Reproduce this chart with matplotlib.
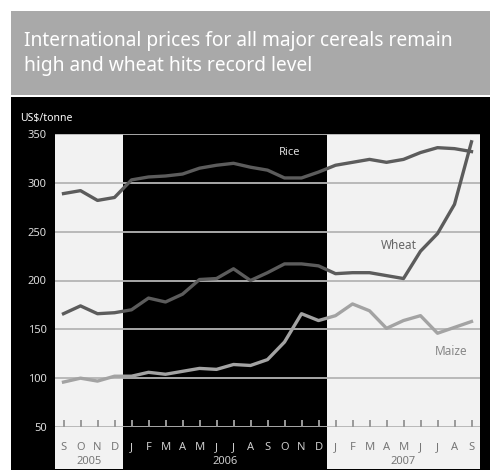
import matplotlib.pyplot as plt
from matplotlib.patches import Rectangle
from matplotlib import transforms

plt.rcParams['font.family'] = ['Noto Sans', 'DejaVu Sans']

months = ['S', 'O', 'N', 'D',
          'J', 'F', 'M', 'A', 'M', 'J', 'J', 'A', 'S', 'O', 'N', 'D',
          'J', 'F', 'M', 'A', 'M', 'J', 'J', 'A', 'S']
years = ['2005', '2006', '2007']
year_len = [4, 12, 9]

rice = [289, 292, 282, 285, 303, 306, 307, 309, 315, 318, 320, 316,
        313, 305, 305, 311, 318, 321, 324, 321, 324, 331, 336, 335, 332]
wheat = [166, 174, 166, 167, 170, 182, 178, 186, 201, 202, 212, 200,
         208, 217, 217, 215, 207, 208, 208, 205, 202, 230, 248, 278, 342]
maize = [96, 100, 97, 102, 102, 106, 104, 107, 110, 109, 114, 113,
         119, 137, 166, 159, 164, 176, 169, 151, 159, 164, 146, 152, 158]

yticks = [50, 100, 150, 200, 250, 300, 350]

W, H = 490, 470
fig = plt.figure(figsize=(W / 100, H / 100), dpi=100, facecolor='white')

# grey title band and black panel
fig.patches.append(Rectangle((11 / W, (H - 95) / H), 1, 84 / H, transform=fig.transFigure,
                             facecolor='#a9a9a9', edgecolor='none', zorder=-2))
fig.patches.append(Rectangle((11 / W, 0), 1, (H - 97) / H, transform=fig.transFigure,
                             facecolor='black', edgecolor='none', zorder=-2))

fig.text(24 / W, (H - 31) / H,
         'International prices for all major cereals remain\nhigh and wheat hits record level',
         color='white', fontsize=13.8, va='top', ha='left', linespacing=1.3)
fig.text(20 / W, (H - 118) / H, 'US$/tonne', color='white', fontsize=7.5, va='center')

ax = fig.add_axes([55 / W, (H - 427) / H, 425 / W, 293 / H])
ax.set_facecolor('black')
ax.set_xlim(-0.5, len(months) - 0.5)
ax.set_ylim(50, 350)
for s in ax.spines.values():
    s.set_visible(False)

# light bands for 2005 and 2007, reaching down under the labels
trans = transforms.blended_transform_factory(ax.transData, ax.transAxes)
start = -0.5
for i, n in enumerate(year_len):
    if i != 1:
        ax.add_patch(Rectangle((start, -0.145), n, 1.145, transform=trans,
                               facecolor='#f2f2f2', edgecolor='none', zorder=0, clip_on=False))
    ax.text(start + n / 2, -0.118, years[i], transform=trans, ha='center', va='center',
            fontsize=8, color='#777777' if i != 1 else '#cccccc')
    start += n

for y in yticks:
    ax.axhline(y, color='#b5b5b5', lw=1.3, zorder=1)

x = range(len(months))
ax.plot(x, rice, color='#5c5c5c', lw=2.4, zorder=3)
ax.plot(x, wheat, color='#5c5c5c', lw=2.4, zorder=3)
ax.plot(x, maize, color='#a3a3a3', lw=2.4, zorder=3)

ax.text(13.3, 331, 'Rice', color='#dddddd', fontsize=8, ha='center', va='center')
ax.text(19.7, 236, 'Wheat', color='#666666', fontsize=8.5, ha='center', va='center')
ax.text(22.8, 127, 'Maize', color='#888888', fontsize=8.5, ha='center', va='center')

# small upward ticks on the 50 line at each month
ax.vlines(list(x), 50, 57, color='#9a9a9a', lw=1.4, zorder=4)

ax.set_yticks(yticks)
ax.set_yticklabels([str(v) for v in yticks], color='#dddddd', fontsize=8)
ax.tick_params(axis='y', length=0, pad=6)
ax.set_xticks(list(x))
ax.set_xticklabels(months, fontsize=8)
ax.tick_params(axis='x', length=0, pad=11)
for i, lab in enumerate(ax.get_xticklabels()):
    lab.set_color('#cccccc' if 4 <= i < 16 else '#777777')

fig.savefig('out.png', dpi=100, facecolor='white')
